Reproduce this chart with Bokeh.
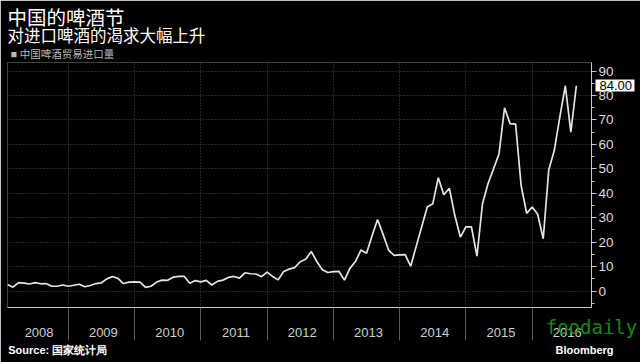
from bokeh.plotting import figure
from bokeh.models import (Range1d, FixedTicker, SingleIntervalTicker, CustomJSTickFormatter,
                          LinearAxis, Title, ColumnDataSource)
from bokeh.embed import file_html
from bokeh.resources import INLINE

# Monthly China beer import volume (from Feb 2008 to Sep 2016)
start_year = 2008
start_month = 2
v2008 = [2.7, 1.6, 3.5, 3.3, 2.9, 3.5, 3.0, 3.1, 2.0, 2.0, 2.5]
v2009 = [2.0, 2.4, 2.8, 1.8, 2.3, 3.1, 3.4, 5.0, 6.0, 5.2, 3.1, 3.7]
v2010 = [3.8, 3.7, 1.5, 2.0, 3.7, 4.5, 4.4, 5.7, 6.0, 6.0, 3.2, 4.3]
v2011 = [3.8, 4.4, 2.5, 4.0, 4.5, 5.6, 6.0, 5.3, 7.5, 7.1, 7.0, 5.9]
v2012 = [7.8, 6.0, 4.6, 8.0, 9.0, 9.6, 12.0, 13.0, 16.2, 12.1, 8.7, 7.6]
v2013 = [8.0, 8.1, 4.5, 9.3, 12.1, 16.8, 15.5, 22.5, 29.3, 23.2, 16.8, 14.6]
v2014 = [14.8, 14.9, 10.2, 18.3, 26.3, 34.4, 35.7, 46.4, 39.4, 42.1, 30.8, 22.1]
v2015 = [26.3, 26.3, 14.3, 35.7, 43.9, 50.0, 56.2, 75.0, 68.5, 68.3, 43.2, 31.8]
v2016 = [34.4, 31.4, 21.4, 49.6, 57.5, 71.2, 84.0, 65.0, 84.0]

year_labels = ["2008", "2009", "2010", "2011", "2012", "2013", "2014", "2015", "2016"]
title = "中国的啤酒节"
subtitle = "对进口啤酒的渴求大幅上升"
legend_text = "■ 中国啤酒贸易进口量"
footer_labels = ["Source: 国家统计局", "Bloomberg"]
watermark = "foodaily"

values = v2008 + v2009 + v2010 + v2011 + v2012 + v2013 + v2014 + v2015 + v2016
xs = [start_year + (start_month - 1 + i) / 12.0 for i in range(len(values))]
src = ColumnDataSource(dict(x=xs, y=values))

X0, X1 = xs[0], 2016.895
BG = "#000000"
CJK = "Liberation Sans, Noto Sans CJK SC"
p = figure(width=640, height=362, output_backend="svg", toolbar_location=None,
           x_range=Range1d(X0, X1), y_range=Range1d(-6.7, 93.5),
           y_axis_location="right", background_fill_color=BG, border_fill_color=BG,
           min_border_left=7, min_border_right=49, min_border_top=62, min_border_bottom=55)
p.outline_line_color = None
p.title.visible = False

p.line("x", "y", source=src, line_color="#e4e4e4", line_width=1.7)

# x axis: year labels centered, separators as long minor ticks
boundaries = list(range(2009, 2017))
label_pos = [int(y) + 0.53 for y in year_labels]
label_pos[0] = 2008.56
xa = p.xaxis[0]
xa.ticker = FixedTicker(ticks=label_pos, minor_ticks=boundaries)
xa.formatter = CustomJSTickFormatter(code="return Math.floor(tick).toString();")
xa.major_tick_line_color = None
xa.major_tick_in = 0
xa.major_tick_out = 0
xa.minor_tick_in = 0
xa.minor_tick_out = 33
xa.minor_tick_line_color = "#5a5a5a"
xa.axis_line_color = "#c8c8c8"
xa.major_label_standoff = -13
xa.major_label_text_font = "Liberation Sans"
xa.major_label_text_font_size = "13px"
xa.major_label_text_color = "#cfcfcf"
xa.axis_label = watermark
xa.axis_label_align = "end"
xa.axis_label_standoff = -24
xa.axis_label_text_font = "DejaVu Sans Mono"
xa.axis_label_text_font_size = "19px"
xa.axis_label_text_font_style = "normal"
xa.axis_label_text_color = "#138a13"

# footer as a second bottom axis (source left, Bloomberg right)
footer_pos = [X0 + (X1 - X0) * 0.086, X0 + (X1 - X0) * 0.988]
fa = LinearAxis(ticker=FixedTicker(ticks=footer_pos, minor_ticks=[]),
                formatter=CustomJSTickFormatter(
                    args=dict(labels=footer_labels),
                    code="return labels[index];"),
                axis_line_color=None, major_tick_line_color=None, minor_tick_line_color=None,
                major_tick_in=0, major_tick_out=0, minor_tick_in=0, minor_tick_out=0,
                axis_label_standoff=0,
                major_label_standoff=3, major_label_text_font="Liberation Sans",
                major_label_text_font_size="11px", major_label_text_font_style="bold",
                major_label_text_color="#ffffff")
p.add_layout(fa, "below")

# y axis on right
ya = p.yaxis[0]
ya.ticker = SingleIntervalTicker(interval=10, num_minor_ticks=2)
ya.major_tick_in = 0
ya.major_tick_out = 5
ya.minor_tick_in = 0
ya.minor_tick_out = 3
ya.major_tick_line_color = "#c8c8c8"
ya.minor_tick_line_color = "#c8c8c8"
ya.axis_line_color = "#c8c8c8"
ya.axis_label_standoff = 0
ya.major_label_standoff = 2
ya.major_label_text_font = "Liberation Sans"
ya.major_label_text_font_size = "13.5px"
ya.major_label_text_color = "#dcdcdc"

# last value tag as a second right axis: a thick white tick with a black label
last = values[-1]
ta = LinearAxis(ticker=FixedTicker(ticks=[last], minor_ticks=[]),
                formatter=CustomJSTickFormatter(code="return tick.toFixed(2);"),
                axis_line_color=None, minor_tick_line_color=None,
                major_tick_line_color="#ffffff", major_tick_line_width=12,
                major_tick_in=21, major_tick_out=18, axis_label_standoff=0,
                major_label_standoff=-35, major_label_text_font="Liberation Sans",
                major_label_text_font_size="13px", major_label_text_color="#000000")
p.add_layout(ta, "right")

p.xgrid.ticker = FixedTicker(ticks=boundaries)
p.xgrid.grid_line_color = "#4a4a4a"
p.xgrid.grid_line_dash = "1 2"
p.ygrid.grid_line_color = "#4a4a4a"
p.ygrid.grid_line_dash = "1 2"

# header texts as titles (later added = further from frame)
p.add_layout(Title(text=legend_text, text_font=CJK, text_font_size="10.5px",
                   text_color="#bbbbbb", text_font_style="normal", standoff=5, offset=3), "above")
p.add_layout(Title(text=subtitle, text_font=CJK, text_font_size="16.5px",
                   text_color="#ffffff", text_font_style="normal", standoff=-2), "above")
p.add_layout(Title(text=title, text_font=CJK, text_font_size="19.5px",
                   text_color="#ffffff", text_font_style="normal", standoff=-6), "above")

open("out.html", "w").write(file_html(p, INLINE))
